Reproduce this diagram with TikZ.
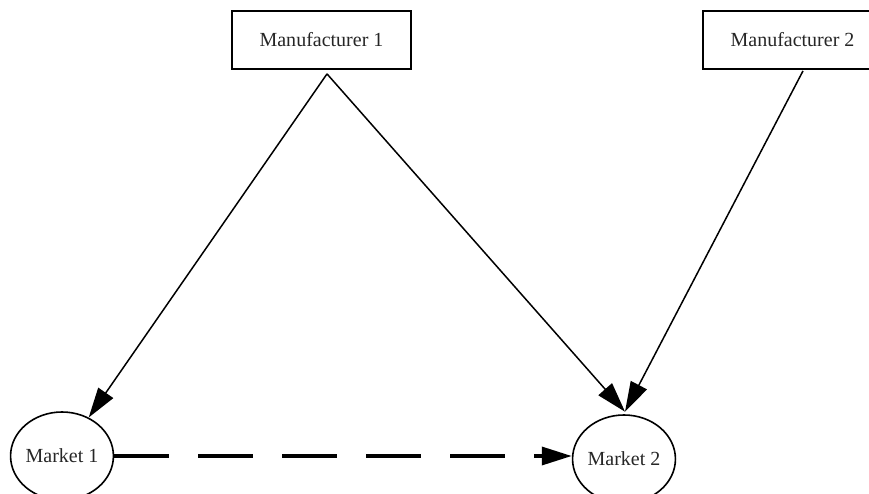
\documentclass[tikz,border=0pt]{standalone}
\usepackage{fontspec}
\setmainfont{Liberation Serif}
\usetikzlibrary{arrows.meta,shapes.geometric}
\begin{document}
\begin{tikzpicture}[x=1pt,y=-1pt,
  every node/.style={font=\fontsize{20}{24}\selectfont, text=black!85},
  mfr/.style={draw, line width=1.8pt, rectangle, minimum width=179pt, minimum height=58pt, inner sep=0pt},
  mkt/.style={draw, line width=1.6pt, ellipse, minimum width=99pt, minimum height=88pt, inner sep=0pt},
  flow/.style={line width=1.5pt, -{Triangle[length=30pt,width=18pt]}},
  spill/.style={line width=3.5pt, dash pattern=on 55pt off 29pt, -{Triangle[length=30pt,width=18pt]}}]
\useasboundingbox (0,0) rectangle (869,494);
\clip (0,0) rectangle (869,494);
\node[mfr] (m1) at (321.5,40) {Manufacturer 1};
\node[mfr] (m2) at (792.5,40) {Manufacturer 2};
\node[mkt] (k1) at (62,456) {Market 1};
\node[mkt] (k2) at (624,459) {Market 2};
\coordinate (a1) at ([xshift=5.5pt,yshift=-4pt]m1.south);
\coordinate (a2) at ([xshift=10.5pt,yshift=-1pt]m2.south);
\coordinate (t2) at ([xshift=1pt,yshift=2.5pt]k2.north);
\draw[flow] (a1) -- (k1);
\draw[flow] (a1) -- (t2);
\draw[flow] (a2) -- (t2);
\draw[spill] (k1.east) -- (k1.east -| k2.west);
\end{tikzpicture}
\end{document}
